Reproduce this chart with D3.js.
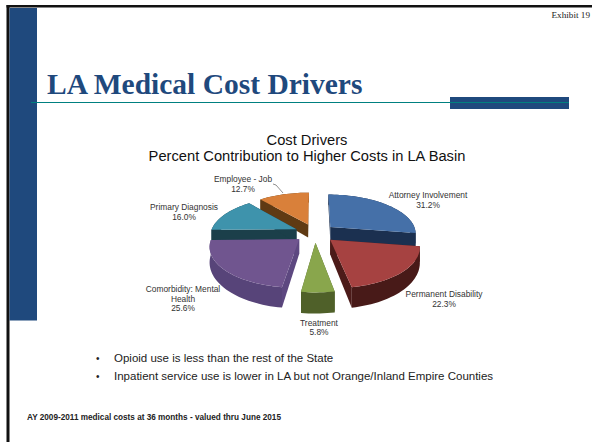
<!DOCTYPE html>
<html>
<head>
<meta charset="utf-8">
<script src="https://cdnjs.cloudflare.com/ajax/libs/d3/7.8.5/d3.min.js"></script>
<style>
html, body { margin: 0; padding: 0; background: #fff; overflow: hidden; }
svg { display: block; }
text { font-family: "Liberation Sans", Arial, sans-serif; }
</style>
</head>
<body>
<script>
// DATA
var categories = ["Attorney Involvement", "Permanent Disability", "Treatment", "Comorbidity: Mental Health", "Primary Diagnosis", "Employee - Job"];
var percents = [31.2, 22.3, 5.8, 25.6, 16.0, 12.7];
var topColors = ["#4570a8", "#a64241", "#89a64c", "#70558f", "#3e93ac", "#d9803a"];
var wallColors = ["#1b3050", "#4c1b19", "#4f6029", "#5d4880", "#1b3f4a", "#5f3a13"];
var rimColors = ["#1b3050", "#481a18", "#4f6029", "#574479", "#1b3f4a", "#5f3a13"];
var bullets = ["Opioid use is less than the rest of the State", "Inpatient service use is lower in LA but not Orange/Inland Empire Counties"];

var svg = d3.select("body").append("svg").attr("width", 592).attr("height", 444);

// page furniture
svg.append("rect").attr("x", 6.5).attr("y", 5).attr("width", 586).attr("height", 2.5).attr("fill", "#111");
svg.append("rect").attr("x", 6.5).attr("y", 5).attr("width", 3).attr("height", 437).attr("fill", "#111");
svg.append("rect").attr("x", 9.5).attr("y", 8).attr("width", 27.5).attr("height", 312.5).attr("fill", "#1f497d");
svg.append("rect").attr("x", 450).attr("y", 97).attr("width", 119).attr("height", 12).attr("fill", "#1f497d");
svg.append("line").attr("x1", 31).attr("x2", 569).attr("y1", 102.5).attr("y2", 102.5).attr("stroke", "#008080").attr("stroke-width", 1);

svg.append("text").attr("x", 590).attr("y", 18).attr("text-anchor", "end")
    .attr("font-size", 9.2).attr("fill", "#222").style("font-family", "'Liberation Serif'").text("Exhibit 19");
svg.append("text").attr("x", 47).attr("y", 94)
    .attr("font-size", 29.5).attr("font-weight", "bold").attr("fill", "#1f497d").style("font-family", "'Liberation Serif'")
    .text("LA Medical Cost Drivers");

// chart title
var chartTitle = svg.append("text").attr("text-anchor", "middle").attr("fill", "#111").attr("font-size", 14.7);
chartTitle.append("tspan").attr("x", 307).attr("y", 144.5).text("Cost Drivers");
chartTitle.append("tspan").attr("x", 307).attr("y", 161).text("Percent Contribution to Higher Costs in LA Basin");

// pie angles, values are normalised by d3.pie (they add up to more than 100)
var pie = d3.pie().sort(null).startAngle(0).endAngle(2 * Math.PI);
var arcs = pie(percents);

// scales for the tilted plane
var cx = 315, cy = 233;
var xScale = d3.scaleLinear().domain([-1, 1]).range([-86, 86]);
var yScale = d3.scaleLinear().domain([-1, 1]).range([-39, 39]);
var explode = 0.24, persp = 0.15, depth = 14;

// plane point (x right, y toward viewer) to screen, h = 1 is the bottom of the slab
function project(x, y, h) {
    var s = 1 / (1 - persp * y);
    return [cx + xScale(x) * s, cy + yScale(y) * s + h * depth * s * s];
}

function slicePoints(d) {
    var mid = (d.startAngle + d.endAngle) / 2;
    var ox = explode * Math.sin(mid), oy = -explode * Math.cos(mid);
    var n = Math.ceil((d.endAngle - d.startAngle) / 0.04);
    var angles = d3.range(n + 1).map(function(i) { return d.startAngle + (d.endAngle - d.startAngle) * i / n; });
    return {
        apex: [ox, oy],
        rim: angles.map(function(a) { return [ox + Math.sin(a), oy - Math.cos(a)]; })
    };
}

var line = d3.line();
function face(points, h) { return points.map(function(p) { return project(p[0], p[1], h); }); }

// far slices first
var drawOrder = [5, 0, 4, 3, 1, 2];
var sliceGrp = svg.append("g");

drawOrder.forEach(function(i) {
    var pts = slicePoints(arcs[i]);
    var g = sliceGrp.append("g").attr("class", "slice");
    var first = pts.rim[0], last = pts.rim[pts.rim.length - 1];

    [first, last].forEach(function(edge) {
        var wall = face([pts.apex, edge], 0).concat(face([edge, pts.apex], 1));
        g.append("path").attr("d", line(wall) + "Z").attr("fill", wallColors[i]);
    });

    var rim = face(pts.rim, 0).concat(face(pts.rim.slice().reverse(), 1));
    g.append("path").attr("d", line(rim) + "Z").attr("fill", rimColors[i]);

    var top = [project(pts.apex[0], pts.apex[1], 0)].concat(face(pts.rim, 0));
    g.append("path").attr("d", line(top) + "Z").attr("fill", topColors[i]);
});

// data labels
var labelSpots = [
    {x: 428, y: 198, lines: ["Attorney Involvement"]},
    {x: 444, y: 297, lines: ["Permanent Disability"]},
    {x: 319, y: 325.5, lines: ["Treatment"]},
    {x: 183, y: 292, lines: ["Comorbidity: Mental", "Health"]},
    {x: 184, y: 210, lines: ["Primary Diagnosis"]},
    {x: 243, y: 182, lines: ["Employee - Job"]}
];
labelSpots.forEach(function(spot, i) {
    var t = svg.append("text").attr("text-anchor", "middle").attr("font-size", 8.4).attr("fill", "#333");
    spot.lines.concat([percents[i].toFixed(1) + "%"]).forEach(function(s, k) {
        t.append("tspan").attr("x", spot.x).attr("y", spot.y + k * 9.6).text(s);
    });
});
svg.append("path").attr("d", "M273,184L276,185L283,193").attr("fill", "none").attr("stroke", "#444").attr("stroke-width", 0.6);

// bullets
bullets.forEach(function(s, i) {
    var y = 362 + i * 17.5;
    svg.append("text").attr("x", 96).attr("y", y).attr("font-size", 10).attr("fill", "#222").text("•");
    svg.append("text").attr("x", 114).attr("y", y).attr("font-size", 11.5).attr("fill", "#222").text(s);
});

svg.append("text").attr("x", 27).attr("y", 420).attr("font-size", 8.2).attr("font-weight", "bold").attr("fill", "#222")
    .text("AY 2009-2011 medical costs at 36 months - valued thru June 2015");
</script>
</body>
</html>
